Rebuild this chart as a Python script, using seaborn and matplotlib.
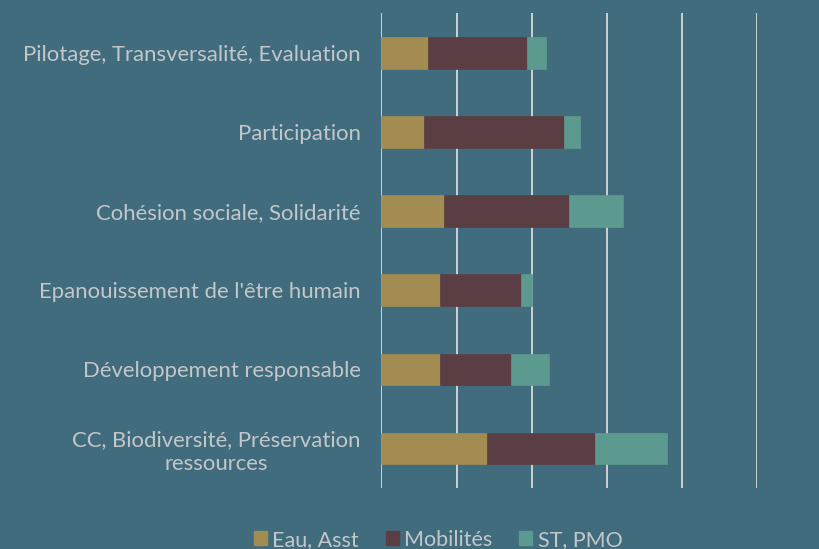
import matplotlib
matplotlib.use("Agg")
import matplotlib.pyplot as plt
import pandas as pd
import seaborn as sns
from matplotlib.patches import Patch

# --- Data ---
categories = [
    "Pilotage, Transversalité, Evaluation",
    "Participation",
    "Cohésion sociale, Solidarité",
    "Epanouissement de l'être humain",
    "Développement responsable",
    "CC, Biodiversité, Préservation\nressources",
]
eau_asst = [3.1, 2.85, 4.15, 3.9, 3.9, 7.0]
mobilites = [6.6, 9.3, 8.35, 5.4, 4.7, 7.25]
st_pmo = [1.25, 1.1, 3.6, 0.75, 2.55, 4.75]
series_names = ["Eau, Asst", "Mobilités", "ST, PMO"]

bg = "#406C7D"
colors = ["#A28C52", "#5B3E43", "#5C998E"]
txt = "#C3C7CA"

sns.set_style("white")
plt.rcParams["font.family"] = ["Lato", "DejaVu Sans"]

df = pd.DataFrame({"cat": categories, series_names[0]: eau_asst,
                   series_names[1]: mobilites, series_names[2]: st_pmo})

fig = plt.figure(figsize=(8.19, 5.49), dpi=100, facecolor=bg)
ax = fig.add_axes([0.4658, 0.111, 0.924 - 0.4658, 0.865])
ax.set_facecolor(bg)

# stacked horizontal bars
left = [0.0] * len(categories)
for name, col in zip(series_names, colors):
    sns.barplot(data=df, y="cat", x=name, left=left, color=col, width=0.4,
                orient="h", ax=ax, edgecolor=col, linewidth=0.5, saturation=1)
    left = [a + b for a, b in zip(left, df[name])]

ax.set_xlim(0, 25)
ax.set_ylim(5.5, -0.5)
ax.set_xticks([0, 5, 10, 15, 20, 25])
ax.xaxis.grid(True, color="#D9D9D9", linewidth=1.3)
ax.set_axisbelow(True)
ax.tick_params(axis="x", length=0, labelbottom=False)
ax.tick_params(axis="y", length=0, pad=15, labelsize=15.9, labelcolor=txt)
for lbl in ax.get_yticklabels():
    lbl.set_multialignment("center")
    lbl.set_linespacing(1.25)
ax.set_xlabel("")
ax.set_ylabel("")
for s in ax.spines.values():
    s.set_visible(False)

handles = [Patch(facecolor=c, edgecolor=c) for c in colors]
fig.legend(handles, series_names, loc="center", bbox_to_anchor=(0.535, 0.017),
           ncol=3, frameon=False, fontsize=15.5, labelcolor=txt,
           handlelength=0.6, handleheight=0.6, handletextpad=0.25,
           columnspacing=1.25, borderpad=0)

fig.savefig("out.png", dpi=100, facecolor=bg)
